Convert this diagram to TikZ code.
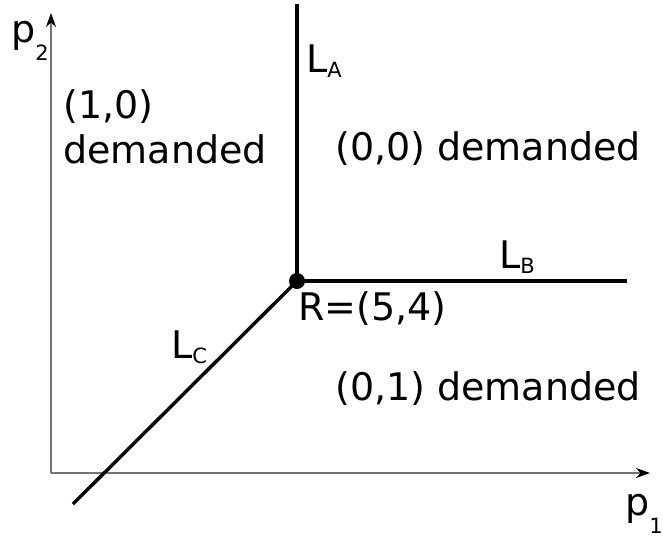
\documentclass[tikz,border=0pt]{standalone}
\usepackage{fontspec}
\setmainfont{DejaVu Sans}
\usepackage{xcolor}
\usetikzlibrary{arrows.meta}

\newcommand{\lsub}[1]{\raisebox{-5pt}{\fontsize{21}{21}\selectfont #1}}
\newcommand{\psub}[1]{\raisebox{-18pt}{\fontsize{21}{21}\selectfont #1}}

\tikzset{
  axis/.style={draw=black!55, line width=1.6pt, -{Stealth[length=14pt,width=10pt,black]}},
  border/.style={line width=3.4pt},
  lbl/.style={anchor=base west, inner sep=0pt, font=\fontsize{38}{45}\selectfont}
}

\begin{document}
\begin{tikzpicture}[x=1pt,y=-1pt]
\useasboundingbox (0,0) rectangle (663,541);
\coordinate (O) at (51,473);
\coordinate (ytop) at (51,13);
\coordinate (xend) at (650,473);
\coordinate (R) at (297,281);
\coordinate (atop) at (297,4);
\coordinate (bend) at (627,281);
\coordinate (cend) at (73,504);

\draw[axis] (O) -- (ytop);
\draw[axis] (O) -- (xend);

\draw[border] (R) -- (atop);
\draw[border] (R) -- (bend);
\draw[border] (R) -- (cend);
\fill (R) circle (8);

\node[lbl] (ptwo) at (11,42) {p\psub{2}};
\node[lbl] (pone) at (625,515) {p\psub{1}};
\node[lbl] (la) at (306,72) {L\lsub{A}};
\node[lbl] (lb) at (499,268) {L\lsub{B}};
\node[lbl] (lc) at (171,358) {L\lsub{C}};
\node[lbl] (rlab) at (298,320) {R=(5,4)};
\node[lbl] (onezero) at (63,118) {(1,0)};
\node[lbl] (dem) at (63,163) {demanded};
\node[lbl] (zerozero) at (335,160) {(0,0) demanded};
\node[lbl] (zeroone) at (335,400) {(0,1) demanded};
\end{tikzpicture}
\end{document}
